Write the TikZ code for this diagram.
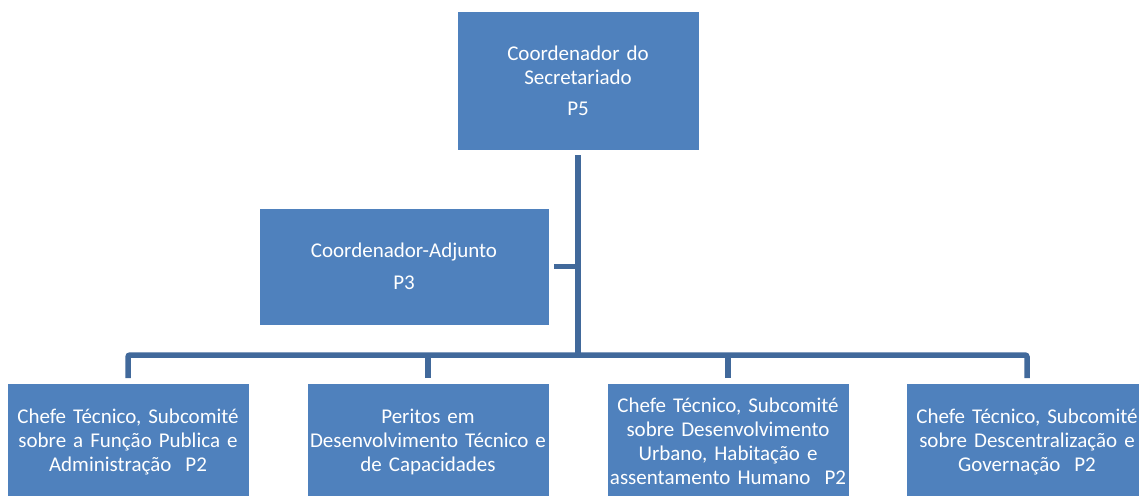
\documentclass[tikz,border=0pt]{standalone}
\usepackage{fontspec}
\setmainfont{Carlito}
\usepackage{xcolor}
\usepackage{tikz}
\usetikzlibrary{positioning,calc}

\definecolor{boxblue}{HTML}{4F81BD}
\definecolor{linkblue}{HTML}{41699B}

\begin{document}
\begin{tikzpicture}[x=1pt, y=-1pt,
    box/.style={fill=boxblue, draw=white, line width=0.8pt, text=white, outer sep=5pt,
        minimum width=242pt, text width=241pt, align=center, inner sep=0pt,
        font=\fontsize{21}{24}\selectfont},
    link/.style={draw=linkblue, line width=5.5pt, rounded corners=2pt}]
    \clip (0,0) rectangle (1139,495);
    \useasboundingbox (0,0) rectangle (1139,495);
    \node [box, minimum height=139pt] (coord) at (578,80.5) {Coordenador do\\ Secretariado\\[7pt] P5}; % top
    \node [box, minimum width=290pt, minimum height=117pt] (adj) at (404,266.5) {Coordenador-Adjunto\\[8pt] P3};
    \node [box, minimum height=117pt] (chefeA) at (128,441.5) {Chefe Técnico, Subcomité\\ sobre a Função Publica e\\ Administração~~P2};
    \node [box, minimum height=117pt] (peritos) at (428,441.5) {Peritos em\\ Desenvolvimento Técnico e\\ de Capacidades};
    \node [box, minimum height=117pt] (chefeC) at (728,441.5) {Chefe Técnico, Subcomité\\ sobre Desenvolvimento\\ Urbano, Habitação e\\ \mbox{assentamento Humano~~P2}};
    \node [box, minimum height=117pt] (chefeD) at (1027,441.5) {Chefe Técnico, Subcomité\\ sobre Descentralização e\\ Governação~~P2};
    \coordinate (bar) at (578,355); % branch point
    \draw [link] (coord.south) -- (bar);
    \draw [link] (adj.east) -- (adj.east -| bar);
    \draw [link] (chefeA.north) |- (bar) -| (chefeD.north);
    \draw [link] (peritos.north) -- (peritos.north |- bar);
    \draw [link] (chefeC.north) -- (chefeC.north |- bar);
\end{tikzpicture}
\end{document}
